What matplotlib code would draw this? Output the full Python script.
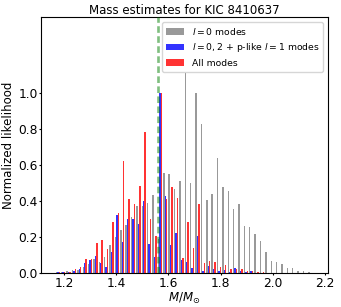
import numpy as np
import matplotlib; matplotlib.use("Agg")
import matplotlib.pyplot as plt

plt.rcParams.update({"font.family": "DejaVu Sans", "font.size": 8.5,
                     "xtick.labelsize": 8.8, "ytick.labelsize": 8.8,
                     "xtick.major.size": 1.6, "ytick.major.size": 1.6,
                     "xtick.major.pad": 1.2, "ytick.major.pad": 0.8})

# histogram bins (48 bins of equal width)
BIN_LO, BIN_HI, NBINS = 1.1661, 2.1544, 48
M_REF = 1.5605  # dashed reference mass

gray_l0 = [0.003, 0.005, 0.008, 0.015, 0.015, 0.033, 0.048, 0.074, 0.061, 0.089,
           0.154, 0.20, 0.24, 0.265, 0.31, 0.37, 0.37, 0.39, 0.43, 0.185,
           0.554, 0.55, 0.468, 0.511, 1.113, 0.50, 1.00, 0.826, 0.404, 0.437,
           0.639, 0.478, 0.456, 0.354, 0.381, 0.26, 0.254, 0.213, 0.178, 0.117,
           0.067, 0.059, 0.048, 0.026, 0.028, 0.011, 0.007, 0.003]
blue_l02 = [0.002, 0.003, 0.004, 0.010, 0.020, 0.056, 0.070, 0.093, 0.052, 0.033,
            0.113, 0.32, 0.17, 0.30, 0.30, 0.27, 0.40, 0.16, 0.09, 1.00,
            0.424, 0.154, 0.218, 0.07, 0.06, 0.028, 0.204, 0.011, 0.04, 0.022,
            0.01, 0.015, 0.005, 0.026, 0.01, 0.003, 0.011, 0.0, 0.0, 0.0,
            0.0, 0.0, 0.0, 0.0, 0.0, 0.0, 0.0, 0.0]
red_all = [0.003, 0.005, 0.006, 0.018, 0.033, 0.074, 0.076, 0.163, 0.18, 0.13,
           0.283, 0.33, 0.62, 0.41, 0.38, 0.48, 0.78, 0.30, 0.205, 1.00,
           0.41, 0.476, 0.415, 0.08, 0.28, 0.135, 0.38, 0.056, 0.063, 0.059,
           0.031, 0.044, 0.019, 0.022, 0.02, 0.008, 0.01, 0.005, 0.003, 0.0,
           0.0, 0.0, 0.0, 0.0, 0.0, 0.0, 0.0, 0.0]
labels = [r"$l = 0$ modes", r"$l = 0, 2$ + p-like $l = 1$ modes", "All modes"]
colors = ["gray", "blue", "red"]

edges = np.linspace(BIN_LO, BIN_HI, NBINS + 1)
centers = 0.5 * (edges[:-1] + edges[1:])

fig = plt.figure(figsize=(3.41, 3.07), dpi=100)
ax = fig.add_axes([0.1202, 0.1117, 0.8417, 0.8319])

ax.hist([centers] * 3, bins=edges, weights=[gray_l0, blue_l02, red_all],
        color=colors, alpha=0.8, label=labels)
ax.axvline(M_REF, color="green", alpha=0.5, lw=1.9, ls=(0, (2.5, 1.3)), zorder=5)

ax.set_xlim(1.112, 2.212)
ax.set_ylim(0, 1.42)
ax.set_xticks([1.2, 1.4, 1.6, 1.8, 2.0, 2.2])
ax.set_yticks([0.0, 0.2, 0.4, 0.6, 0.8, 1.0])
ax.set_xlabel(r"$M/M_{\odot}$", labelpad=1.0)
ax.set_ylabel("Normalized likelihood", labelpad=2.5)
ax.set_title("Mass estimates for KIC 8410637", fontsize=8.45, pad=2.5)
ax.legend(loc="upper right", fontsize=6.7)

fig.savefig("out.png", dpi=100)
